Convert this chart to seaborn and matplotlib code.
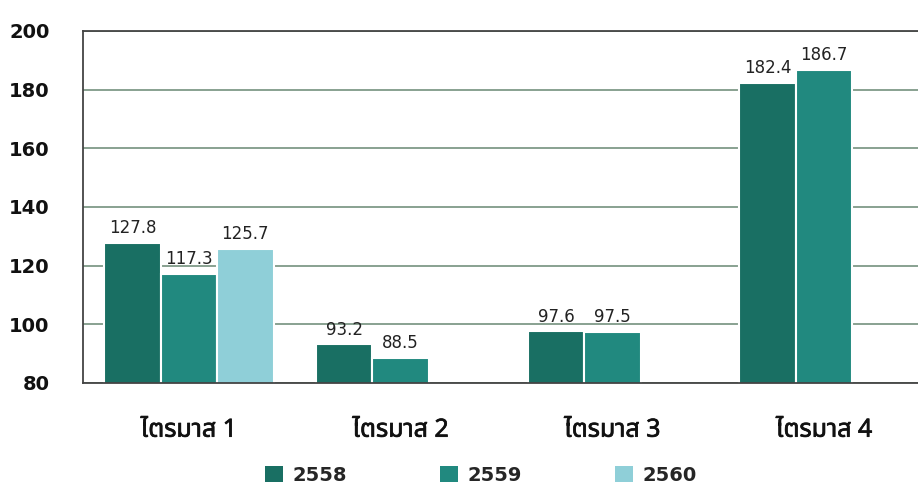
import numpy as np
import pandas as pd
import matplotlib
matplotlib.use("Agg")
import matplotlib.pyplot as plt
import matplotlib.patheffects as pe
import seaborn as sns
from matplotlib.patches import Patch

# ข้อมูล
quarters = ["ไตรมาส 1", "ไตรมาส 2", "ไตรมาส 3", "ไตรมาส 4"]
years = ["2558", "2559", "2560"]
val_2558 = [127.8, 93.2, 97.6, 182.4]
val_2559 = [117.3, 88.5, 97.5, 186.7]
val_2560 = [125.7, np.nan, np.nan, np.nan]
colors = ["#196f63", "#21897f", "#8fcfd8"]

df = pd.DataFrame({
    "quarter": quarters * 3,
    "year": [y for y in years for _ in quarters],
    "value": val_2558 + val_2559 + val_2560,
})

sns.set_style("white")
plt.rcParams["font.family"] = ["DejaVu Sans", "Noto Sans"]
thai_font = ["Noto Sans", "Noto Sans Thai", "DejaVu Sans"]

fig = plt.figure(figsize=(9.18, 4.88), dpi=100)
ax = fig.add_axes([0.0904, 0.2152, 0.9227, 0.7213])

sns.barplot(data=df, x="quarter", y="value", hue="year", hue_order=years,
            palette=colors, saturation=1, order=quarters, errorbar=None, width=0.8,
            edgecolor="white", linewidth=1.5, ax=ax, legend=False)

for cont in ax.containers:
    ax.bar_label(cont, fmt="%.1f", padding=4, fontsize=12, color="#222222")

ax.set_ylim(80, 200)
ax.set_yticks(range(80, 201, 20))
ax.set_xlim(-0.5, 3.5)
ax.set_xlabel("")
ax.set_ylabel("")
ax.set_axisbelow(True)
ax.yaxis.grid(True, color="#7f9a88", linewidth=1.3)

for side in ["left", "top", "bottom"]:
    ax.spines[side].set_color("#444444")
    ax.spines[side].set_linewidth(1.3)
ax.spines["right"].set_visible(False)

ax.tick_params(axis="y", direction="in", length=9, width=1.3, color="#444444",
               labelsize=14, pad=24)
ax.tick_params(axis="x", length=0, labelsize=18, pad=25)
for lab in ax.get_yticklabels():
    lab.set_fontweight("bold")
    lab.set_color("#111111")
for lab in ax.get_xticklabels():
    lab.set_family(thai_font)
    lab.set_color("#111111")
    lab.set_path_effects([pe.withStroke(linewidth=0.5, foreground="#111111")])

handles = [Patch(facecolor=c, edgecolor="none") for c in colors]
fig.legend(handles, years, loc="center", bbox_to_anchor=(0.524, 0.026), ncol=3,
           frameon=False, handlelength=0.9, handleheight=0.9, columnspacing=4.8,
           handletextpad=0.5, prop={"size": 14, "weight": "bold"})

fig.savefig("out.png", dpi=100)
